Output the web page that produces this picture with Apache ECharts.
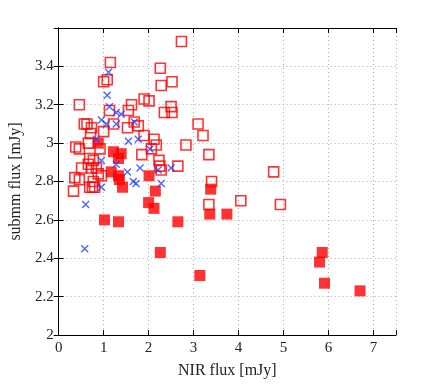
<!DOCTYPE html>
<html>
<head>
<meta charset="utf-8">
<script src="https://cdn.jsdelivr.net/npm/echarts@6/dist/echarts.min.js"></script>
<style>
  html, body { margin: 0; padding: 0; background: #fff; }
  #chart { width: 436px; height: 384px; }
</style>
</head>
<body>
<div id="chart"></div>
<script>
// open squares
const openX = [2.73, 1.15, 1.00, 1.08, 2.26, 2.52, 2.28, 0.46, 1.13, 1.55, 1.62, 1.90, 2.01, 2.35, 2.50, 2.52,
  0.57, 0.63, 0.73, 0.71, 1.00, 1.22, 1.53, 1.68, 1.77, 3.10, 3.21, 1.90, 2.12, 2.17, 2.06, 1.85, 2.83, 3.34,
  2.23, 2.25, 2.28, 2.65, 4.78, 3.40, 3.34, 4.05, 4.93, 0.66, 0.38, 0.46, 0.92, 0.69, 0.77, 0.66, 0.51, 0.73,
  0.84, 0.88, 0.36, 0.46, 0.77, 0.95, 0.33, 0.69, 0.75, 0.80]
const openY = [3.53, 3.42, 3.32, 3.33, 3.39, 3.32, 3.30, 3.20, 3.17, 3.17, 3.20, 3.23, 3.22, 3.16, 3.19, 3.16,
  3.10, 3.10, 3.08, 3.05, 3.06, 3.10, 3.08, 3.11, 3.09, 3.10, 3.04, 3.04, 3.02, 2.99, 2.97, 2.94, 2.99, 2.94,
  2.91, 2.88, 2.86, 2.88, 2.85, 2.80, 2.68, 2.70, 2.68, 3.00, 2.98, 2.97, 2.97, 2.92, 2.91, 2.89, 2.87, 2.87,
  2.87, 2.84, 2.82, 2.81, 2.80, 2.83, 2.75, 2.77, 2.77, 2.77]

// filled squares
const fillX = [0.88, 1.22, 1.39, 1.33, 1.17, 1.33, 1.35, 1.42, 2.01, 2.15, 2.00, 2.12, 1.02, 1.33, 2.26, 2.65,
  3.38, 3.36, 3.74, 3.14, 5.86, 5.80, 5.91, 6.70]
const fillY = [3.00, 2.955, 2.945, 2.92, 2.85, 2.83, 2.81, 2.77, 2.83, 2.75, 2.69, 2.66, 2.60, 2.59, 2.43, 2.59,
  2.76, 2.63, 2.63, 2.31, 2.43, 2.38, 2.27, 2.23]

// crosses
const crossX = [1.11, 1.08, 1.13, 1.28, 1.39, 0.95, 1.06, 1.28, 1.68, 0.84, 1.55, 1.77, 2.03, 0.95, 1.28, 1.53,
  1.81, 2.21, 2.50, 0.95, 1.66, 1.72, 2.28, 0.60, 0.58]
const crossY = [3.37, 3.25, 3.19, 3.16, 3.15, 3.12, 3.10, 3.10, 3.11, 3.02, 3.01, 3.02, 2.97, 2.91, 2.89, 2.85,
  2.87, 2.86, 2.87, 2.77, 2.80, 2.79, 2.79, 2.68, 2.45]

const xTicks = [0, 7.5, 1]
const yTicks = [2, 3.6, 0.2]

const zip = (xs, ys) => xs.map((x, i) => [x, ys[i]])

const font = 'Liberation Serif'
const gridLine = { show: true, lineStyle: { color: '#b0b0b0', type: [1, 3], width: 1 } }
const blk = { lineStyle: { color: '#000', width: 1 } }

const chart = echarts.init(document.getElementById('chart'))

chart.setOption({
  animation: false,
  backgroundColor: '#fff',
  grid: { left: 57, right: 40, top: 28, bottom: 43 },
  xAxis: [
    {
      type: 'value', min: xTicks[0], max: xTicks[1], interval: xTicks[2],
      name: 'NIR flux [mJy]', nameLocation: 'middle', nameGap: 28,
      nameTextStyle: { fontFamily: font, fontSize: 16, color: '#222' },
      axisLine: { show: true, onZero: false, ...blk },
      axisTick: { show: true, inside: true, length: 5, ...blk },
      axisLabel: {
        fontFamily: font, fontSize: 15, color: '#222', margin: 6,
        formatter: v => (v % 1 !== 0 ? '' : String(v))
      },
      splitLine: gridLine
    },
    {
      type: 'value', position: 'top', min: xTicks[0], max: xTicks[1], interval: xTicks[2],
      axisLine: { show: true, ...blk },
      axisTick: { show: true, inside: true, length: 5, ...blk },
      axisLabel: { show: false },
      splitLine: { show: false }
    }
  ],
  yAxis: [
    {
      type: 'value', min: yTicks[0], max: yTicks[1], interval: yTicks[2],
      name: 'submm flux [mJy]', nameLocation: 'middle', nameGap: 32,
      nameTextStyle: { fontFamily: font, fontSize: 16, color: '#222' },
      axisLine: { show: true, onZero: false, ...blk },
      axisTick: { show: true, inside: true, length: 5, ...blk },
      axisLabel: {
        fontFamily: font, fontSize: 15, color: '#222', margin: 5,
        formatter: v => (v > 3.55 ? '' : String(Math.round(v * 10) / 10))
      },
      splitLine: gridLine
    },
    {
      type: 'value', position: 'right', min: yTicks[0], max: yTicks[1], interval: yTicks[2],
      axisLine: { show: true, ...blk },
      axisTick: { show: true, inside: true, length: 5, ...blk },
      axisLabel: { show: false },
      splitLine: { show: false }
    }
  ],
  series: [
    {
      type: 'scatter', data: zip(openX, openY), symbol: 'rect', symbolSize: 10,
      itemStyle: { color: 'rgba(255,255,255,0)', borderColor: '#ff0000', borderWidth: 1.6 }
    },
    {
      type: 'scatter', data: zip(fillX, fillY), symbol: 'rect', symbolSize: 11,
      itemStyle: { color: '#ff0000' }
    },
    {
      type: 'scatter', data: zip(crossX, crossY), symbol: 'path://M0,0L10,10M10,0L0,10', symbolSize: 7,
      itemStyle: { color: 'none', borderColor: '#2040ff', borderWidth: 1.4 }
    }
  ]
})
</script>
</body>
</html>
